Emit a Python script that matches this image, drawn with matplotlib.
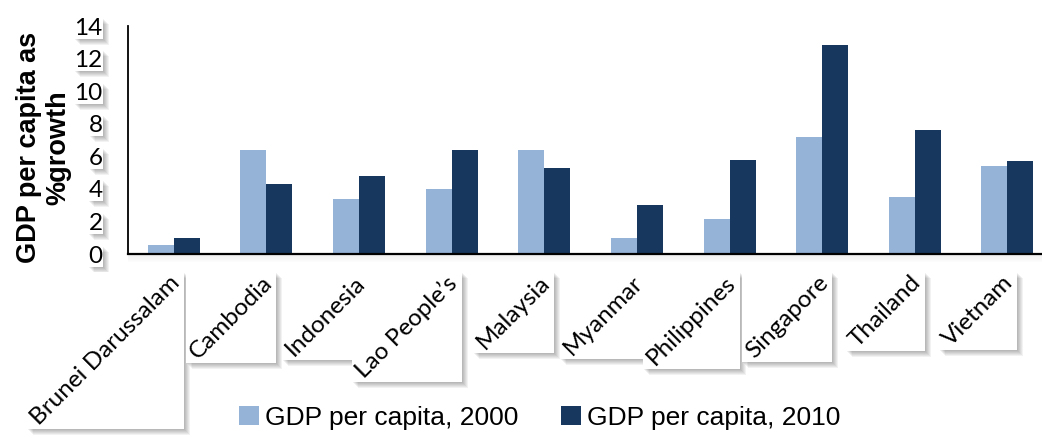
import matplotlib
matplotlib.use("Agg")
import matplotlib.pyplot as plt
import numpy as np
from matplotlib.patches import Rectangle
from matplotlib.transforms import IdentityTransform, ScaledTranslation

# GDP per capita growth (%) for ASEAN members
countries = ["Brunei Darussalam", "Cambodia", "Indonesia", "Lao People\u2019s", "Malaysia",
             "Myanmar", "Philippines", "Singapore", "Thailand", "Vietnam"]
gdp_2000 = [0.55, 6.4, 3.4, 4.0, 6.4, 1.0, 2.15, 7.2, 3.5, 5.4]
gdp_2010 = [1.0, 4.3, 4.8, 6.4, 5.3, 3.0, 5.8, 12.85, 7.6, 5.7]
yticks = [0, 2, 4, 6, 8, 10, 12, 14]

c2000 = "#95b3d7"
c2010 = "#17375e"

fig = plt.figure(figsize=(10.42, 4.38), dpi=100)
ax = fig.add_axes([0.1224, 0.42, 0.8776, 0.5206])

x = np.arange(len(countries))
w = 0.281
ax.bar(x - w / 2, gdp_2000, w, color=c2000, label="GDP per capita, 2000", zorder=2)
ax.bar(x + w / 2, gdp_2010, w, color=c2010, label="GDP per capita, 2010", zorder=2)

ax.set_xlim(-0.5, 9.374)
ax.set_ylim(0, 14)
ax.set_yticks(yticks)
ax.set_yticklabels([str(t) for t in yticks], fontsize=17.5, fontfamily="Lato")
ax.set_xticks(x)
ax.set_xticklabels(countries, rotation=45, ha="right", va="top", fontsize=17.5, fontfamily="Lato")
ax.tick_params(axis="y", length=0, pad=18)
ax.tick_params(axis="x", length=0, pad=13)
for lab in ax.get_xticklabels():
    lab.set_transform(lab.get_transform() + ScaledTranslation(0.10, 0, fig.dpi_scale_trans))

for s in ["top", "right"]:
    ax.spines[s].set_visible(False)
ax.spines["left"].set_linewidth(1.3)
ax.spines["bottom"].set_linewidth(1.6)

# soft shadow under the baseline
for i in range(1, 8):
    ax.add_patch(Rectangle((0, -0.005 * i), 1, 0.005, transform=ax.transAxes,
                           color="black", alpha=0.03 * (8 - i) / 3, lw=0, clip_on=False, zorder=0.5))

fig.text(0.042, 0.663, "GDP per capita as\n%growth", rotation=90, ha="center", va="center",
         multialignment="center", fontsize=19.5, fontweight="bold", fontfamily="Liberation Sans",
         linespacing=1.15)

leg = fig.legend(loc="center", bbox_to_anchor=(0.518, 0.046), ncol=2, frameon=False,
                 prop={"family": "Liberation Sans", "size": 19},
                 handlelength=0.75, handleheight=0.75, handletextpad=0.25, columnspacing=1.6)

# white boxes with drop shadows behind the tick labels
fig.canvas.draw()
renderer = fig.canvas.get_renderer()
labels = list(ax.get_xticklabels()) + list(ax.get_yticklabels())
for lab in labels:
    bb = lab.get_window_extent(renderer)
    for i in range(1, 7):
        ax.add_patch(Rectangle((bb.x0 + i, bb.y0 - i), bb.width, bb.height, transform=IdentityTransform(),
                               color="black", alpha=0.05, lw=0, clip_on=False, zorder=0.6))
    ax.add_patch(Rectangle((bb.x0, bb.y0), bb.width, bb.height, transform=IdentityTransform(),
                           color="white", lw=0, clip_on=False, zorder=0.7))

fig.savefig("out.png", dpi=100)
